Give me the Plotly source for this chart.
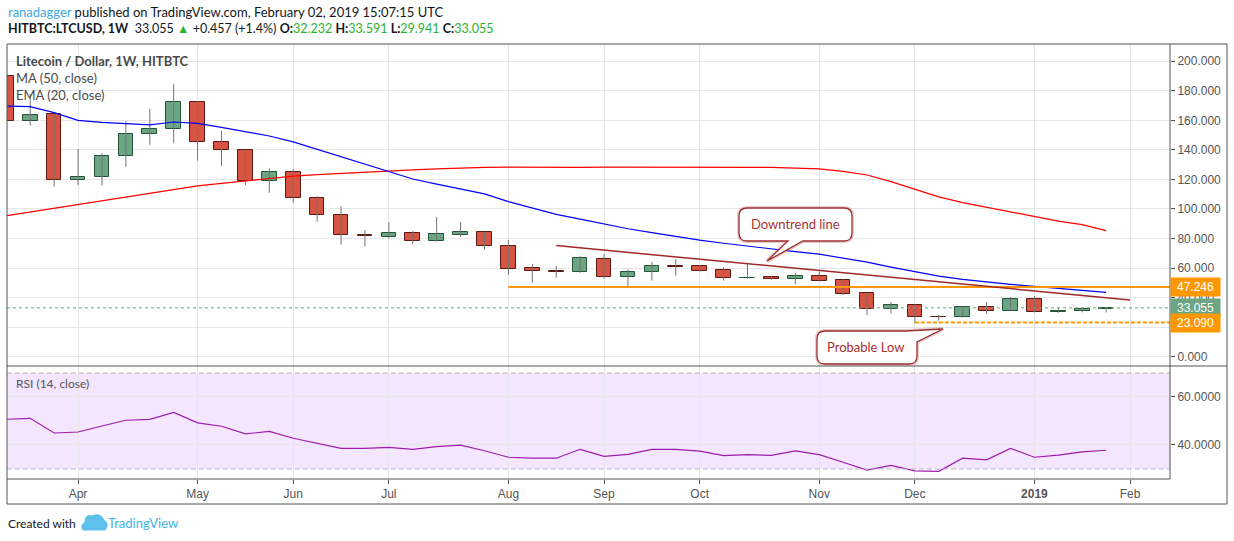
import plotly.graph_objects as go
from plotly.subplots import make_subplots

# weekly bars (Monday open) HITBTC:LTCUSD
dates = ["2018-03-12", "2018-03-19", "2018-03-26", "2018-04-02", "2018-04-09", "2018-04-16",
         "2018-04-23", "2018-04-30", "2018-05-07", "2018-05-14", "2018-05-21", "2018-05-28",
         "2018-06-04", "2018-06-11", "2018-06-18", "2018-06-25", "2018-07-02", "2018-07-09",
         "2018-07-16", "2018-07-23", "2018-07-30", "2018-08-06", "2018-08-13", "2018-08-20",
         "2018-08-27", "2018-09-03", "2018-09-10", "2018-09-17", "2018-09-24", "2018-10-01",
         "2018-10-08", "2018-10-15", "2018-10-22", "2018-10-29", "2018-11-05", "2018-11-12",
         "2018-11-19", "2018-11-26", "2018-12-03", "2018-12-10", "2018-12-17", "2018-12-24",
         "2018-12-31", "2019-01-07", "2019-01-14", "2019-01-21", "2019-01-28"]

opens = [190.0, 159.8, 164.3, 119.4, 121.5, 135.7, 150.6, 154.0, 172.2, 145.2, 139.7, 118.7,
         124.8, 107.2, 95.7, 82.4, 80.8, 83.5, 78.5, 82.2, 84.2, 74.7, 59.9, 57.8,
         57.3, 65.9, 54.2, 57.1, 61.2, 61.2, 58.7, 53.1, 53.8, 52.4, 54.4, 51.7,
         42.9, 32.3, 34.8, 27.0, 26.7, 33.4, 31.1, 38.9, 30.1, 30.8, 32.232]
highs = [198.0, 178.0, 165.0, 140.6, 137.7, 159.6, 167.7, 184.6, 173.0, 152.8, 140.2, 127.5,
         126.9, 108.8, 102.0, 85.8, 91.0, 85.1, 94.6, 91.2, 84.5, 79.0, 62.8, 61.4,
         68.2, 69.5, 59.2, 64.1, 66.1, 62.0, 60.5, 62.6, 54.5, 56.5, 57.5, 52.4,
         43.2, 37.0, 35.5, 28.2, 33.9, 37.0, 40.4, 40.9, 33.2, 33.2, 33.591]
lows = [152.0, 156.4, 115.1, 116.2, 115.8, 128.6, 143.5, 144.5, 132.7, 129.3, 116.2, 111.0,
        104.3, 91.4, 75.8, 74.5, 80.0, 76.1, 77.9, 81.2, 72.4, 55.5, 50.1, 53.5,
        56.8, 52.8, 47.9, 51.5, 54.8, 57.5, 51.5, 52.8, 52.0, 49.0, 51.0, 41.8,
        28.2, 29.1, 23.09, 24.4, 26.5, 28.7, 30.8, 29.8, 29.8, 30.0, 29.941]
closes = [159.8, 163.4, 119.4, 121.5, 135.7, 150.6, 154.0, 172.2, 145.2, 139.7, 118.7, 124.8,
          107.2, 95.7, 82.2, 81.9, 83.5, 78.5, 82.9, 84.2, 74.7, 59.2, 57.8, 57.3,
          66.6, 54.2, 57.1, 61.2, 60.9, 58.2, 53.1, 53.6, 52.4, 54.4, 51.5, 42.7,
          32.3, 34.8, 26.7, 26.8, 33.4, 31.1, 38.9, 30.1, 30.8, 32.232, 33.055]

ema20 = [169.7, 169.3, 165.2, 160.0, 158.7, 157.8, 156.9, 158.9, 158.0, 155.3,
         152.1, 149.4, 145.4, 140.4, 135.2, 130.5, 125.7, 120.3, 116.8, 113.5,
         110.2, 105.0, 100.6, 96.4, 93.1, 89.8, 86.6, 84.0, 81.4, 78.9,
         76.8, 74.8, 72.9, 71.1, 69.4, 66.7, 64.0, 60.6, 57.3, 54.5,
         52.3, 50.4, 49.0, 47.6, 46.2, 44.8, 43.5]
ma50 = [95.5, 98.0, 100.2, 102.7, 105.2, 107.8, 110.4, 113.0, 115.6, 117.3,
        119.0, 120.7, 122.3, 123.2, 124.1, 125.0, 125.9, 126.5, 127.1, 127.7,
        128.2, 128.3, 128.1, 128.0, 128.2, 128.4, 128.4, 128.4, 128.4, 128.4,
        128.4, 128.3, 128.2, 127.7, 127.1, 125.5, 123.0, 118.5, 113.2, 108.2,
        104.3, 101.2, 97.6, 94.5, 91.8, 89.4, 85.3]
rsi14 = [50.7, 51.1, 45.0, 45.4, 47.9, 50.3, 50.7, 53.6, 49.2, 47.8,
         44.6, 45.7, 42.8, 40.7, 38.6, 38.6, 39.0, 38.2, 39.3, 39.9,
         37.6, 34.9, 34.5, 34.5, 38.2, 35.3, 36.1, 38.2, 38.2, 37.4,
         35.6, 36.0, 35.7, 37.5, 36.0, 32.8, 29.5, 31.5, 29.2, 29.0,
         34.5, 33.8, 38.6, 34.9, 35.8, 37.1, 37.8]

# drawn levels
resistance = 47.246
resistance_from = "2018-08-06"
support = 23.090
support_from = "2018-12-03"
trend_x = ["2018-08-20", "2019-02-04"]
trend_y = [75.2, 38.4]
rsi_bands = [30, 70]

month_ticks = ["2018-04-02", "2018-05-07", "2018-06-04", "2018-07-02", "2018-08-06", "2018-09-03",
               "2018-10-01", "2018-11-05", "2018-12-03", "2019-01-07", "2019-02-04"]
month_labels = ["Apr", "May", "Jun", "Jul", "Aug", "Sep", "Oct", "Nov", "Dec", "<b>2019</b>", "Feb"]
price_ticks = [0, 20, 40, 60, 80, 100, 120, 140, 160, 180, 200]
price_labels = ["0.000", "", "40.000", "60.000", "80.000", "100.000", "120.000", "140.000",
                "160.000", "180.000", "200.000"]
rsi_ticks = [40, 60]

x_range = ["2018-03-12 04:48", "2019-02-15 16:48"]

UP, UP_LINE = "#6ba583", "#225437"
DN, DN_LINE = "#d75442", "#5b1a13"
WICK = "#737375"
FRAME = "#555555"
GRID = "#e6e6e6"
TXT = "Lato"
AX = "Liberation Sans"

# pixel geometry of the plotting area
L_PX, R_PX, T_PX, B_PX = 7, 1170, 44, 479
SPLIT_PX = 366


def pp(x, y):
    return (x - L_PX) / (R_PX - L_PX), (B_PX - y) / (B_PX - T_PX)


def svg(segs):
    out = []
    for s in segs:
        cmd, nums = s[0], s[1:]
        pts = []
        for k in range(0, len(nums), 2):
            a, b = pp(nums[k], nums[k + 1])
            pts.append(f"{a:.5f},{b:.5f}")
        out.append(cmd + " " + " ".join(pts))
    return " ".join(out) + " Z"


fig = make_subplots(rows=2, cols=1, shared_xaxes=True, vertical_spacing=0,
                    row_heights=[SPLIT_PX - T_PX, B_PX - SPLIT_PX])

# wicks
wx, wy = [], []
for d, h, l in zip(dates, highs, lows):
    wx += [d, d, None]
    wy += [l, h, None]
fig.add_trace(go.Scatter(x=wx, y=wy, mode="lines", line=dict(color=WICK, width=1),
                         hoverinfo="skip"), row=1, col=1)

# bodies
up = [c >= o for o, c in zip(opens, closes)]
fig.add_trace(go.Bar(
    x=dates,
    y=[abs(c - o) for o, c in zip(opens, closes)],
    base=[min(o, c) for o, c in zip(opens, closes)],
    width=4.3 * 86400000,
    marker=dict(color=[UP if u else DN for u in up],
                line=dict(color=[UP_LINE if u else DN_LINE for u in up], width=1)),
    hoverinfo="skip"), row=1, col=1)

fig.add_trace(go.Scatter(x=dates, y=ma50, mode="lines", line=dict(color="#ff0000", width=1.2)), row=1, col=1)
fig.add_trace(go.Scatter(x=dates, y=ema20, mode="lines", line=dict(color="#0000ff", width=1.2)), row=1, col=1)

# levels and trend line
fig.add_trace(go.Scatter(x=[resistance_from, x_range[1]], y=[resistance, resistance], mode="lines",
                         line=dict(color="#ff9800", width=2)), row=1, col=1)
fig.add_trace(go.Scatter(x=[support_from, x_range[1]], y=[support, support], mode="lines",
                         line=dict(color="#ff9800", width=2, dash="4px,2px")), row=1, col=1)
fig.add_trace(go.Scatter(x=x_range, y=[closes[-1], closes[-1]], mode="lines",
                         line=dict(color=UP, width=1, dash="dot")), row=1, col=1)
fig.add_trace(go.Scatter(x=trend_x, y=trend_y, mode="lines",
                         line=dict(color="#a02828", width=1.5)), row=1, col=1)

# RSI
fig.add_trace(go.Scatter(x=dates, y=rsi14, mode="lines", line=dict(color="#9c1cab", width=1.2)), row=2, col=1)

shapes = [
    dict(type="rect", xref="x2 domain", yref="y2", x0=0, x1=1, y0=rsi_bands[0], y1=rsi_bands[1],
         fillcolor="#f4e6fe", line=dict(width=0), layer="below"),
]
for b in rsi_bands:
    shapes.append(dict(type="line", xref="x2 domain", yref="y2", x0=0, x1=1, y0=b, y1=b,
                       line=dict(color="#bdb3c2", width=1, dash="5px,3px")))

# frame lines
frame = [(L_PX, T_PX, 1227, T_PX), (L_PX, T_PX, L_PX, 504), (1227, T_PX, 1227, 504),
         (L_PX, 504, 1227, 504), (L_PX, SPLIT_PX, 1227, SPLIT_PX), (L_PX, B_PX, R_PX, B_PX),
         (R_PX, T_PX, R_PX, B_PX)]
for x0, y0, x1, y1 in frame:
    a0, b0 = pp(x0, y0)
    a1, b1 = pp(x1, y1)
    shapes.append(dict(type="line", xref="paper", yref="paper", x0=a0, y0=b0, x1=a1, y1=b1,
                       line=dict(color=FRAME, width=1)))

# callouts
down_box = [("M", 747, 208), ("L", 844, 208), ("Q", 852, 208, 852, 216), ("L", 852, 233),
            ("Q", 852, 241, 844, 241), ("L", 803, 241), ("L", 767, 261), ("L", 788, 241),
            ("L", 747, 241), ("Q", 739, 241, 739, 233), ("L", 739, 216), ("Q", 739, 208, 747, 208)]
low_box = [("M", 825, 331), ("L", 906, 331), ("L", 943, 329), ("L", 917, 342), ("L", 917, 356),
           ("Q", 917, 364, 909, 364), ("L", 825, 364), ("Q", 817, 364, 817, 356), ("L", 817, 339),
           ("Q", 817, 331, 825, 331)]
for box in (down_box, low_box):
    path = svg(box)
    shapes.append(dict(type="path", xref="paper", yref="paper", path=path,
                       line=dict(color="rgba(190,110,110,0.35)", width=4)))
    shapes.append(dict(type="path", xref="paper", yref="paper", path=path,
                       fillcolor="white", line=dict(color="#a03030", width=1.3)))

# TradingView logo (small cloud)
logo = [("M", 83, 530), ("L", 105, 530), ("Q", 110, 524, 104, 520), ("Q", 100, 512, 92, 516),
        ("Q", 85, 514, 85, 522), ("Q", 80, 525, 83, 530)]
shapes.append(dict(type="path", xref="paper", yref="paper", path=svg(logo),
                   fillcolor="#5ec0ec", line=dict(color="#5ec0ec", width=1)))

ann = []


def text_at(x, y, text, size=13, color="#131722", family=TXT, anchor="left"):
    a, b = pp(x, y)
    ann.append(dict(xref="paper", yref="paper", x=a, y=b, text=text, showarrow=False,
                    xanchor=anchor, yanchor="middle", font=dict(family=family, size=size, color=color)))


G = "#2fb12f"
text_at(6, 12, "<span style='color:#3fa9e0'>ranadagger</span> published on TradingView.com, "
               "February 02, 2019 15:07:15 UTC", size=13)
text_at(6, 29, f"<b>HITBTC:LTCUSD, 1W</b>  {closes[-1]:.3f} <span style='color:{G}'>▲</span> "
               f"+0.457 (+1.4%) "
               f"<b>O:</b><span style='color:{G}'>{opens[-1]:.3f}</span> "
               f"<b>H:</b><span style='color:{G}'>{highs[-1]:.3f}</span> "
               f"<b>L:</b><span style='color:{G}'>{lows[-1]:.3f}</span> "
               f"<b>C:</b><span style='color:{G}'>{closes[-1]:.3f}</span>", size=12.5)
text_at(14, 61, "<b>Litecoin / Dollar, 1W, HITBTC</b>", size=13, color="#4a4a4a")
text_at(14, 78, "MA (50, close)", size=13, color="#4a4a4a")
text_at(14, 95, "EMA (20, close)", size=13, color="#4a4a4a")
text_at(14, 384, "RSI (14, close)", size=12, color="#555555")
text_at(795, 224, "Downtrend line", size=13, color="#a83232", anchor="center")
text_at(866, 347, "Probable Low", size=13, color="#a83232", anchor="center")
text_at(6, 523, "Created with", size=12, color="#131722")
text_at(106, 523, "TradingView", size=13, color="#3eb3e8")

for level, col in [(resistance, "#ff9800"), (closes[-1], UP), (support, "#ff9800")]:
    ann.append(dict(xref="paper", yref="y", x=1, y=level, xanchor="left", yanchor="middle",
                    text=f"{level:.3f}", showarrow=False, bgcolor=col, width=47, height=16,
                    borderpad=1, font=dict(family=AX, size=12, color="white")))

fig.update_layout(
    width=1234, height=541, autosize=False,
    margin=dict(l=L_PX, r=1234 - R_PX, t=T_PX, b=541 - B_PX),
    paper_bgcolor="white", plot_bgcolor="white",
    showlegend=False, hovermode=False, bargap=0,
    shapes=shapes, annotations=ann,
)
fig.update_xaxes(range=x_range, tickvals=month_ticks, showgrid=True, gridcolor=GRID,
                 zeroline=False, showline=False)
fig.update_xaxes(showticklabels=False, ticks="", row=1, col=1)
fig.update_xaxes(ticktext=month_labels, ticks="outside", ticklen=4, tickcolor=FRAME,
                 tickfont=dict(family=AX, size=12, color="#555555"), row=2, col=1)
fig.update_yaxes(side="right", zeroline=False, showgrid=True, gridcolor=GRID,
                 ticks="outside", ticklen=4, tickcolor=FRAME,
                 tickfont=dict(family=AX, size=12, color="#555555"))
fig.update_yaxes(range=[-6.3, 211.7], tickvals=price_ticks, ticktext=price_labels, row=1, col=1)
fig.update_yaxes(range=[25.83, 72.9], tickvals=rsi_ticks, tickformat=".4f", row=2, col=1)

fig.write_html("out.html", config={"displayModeBar": False},
               post_script="document.body.style.margin='0';")
